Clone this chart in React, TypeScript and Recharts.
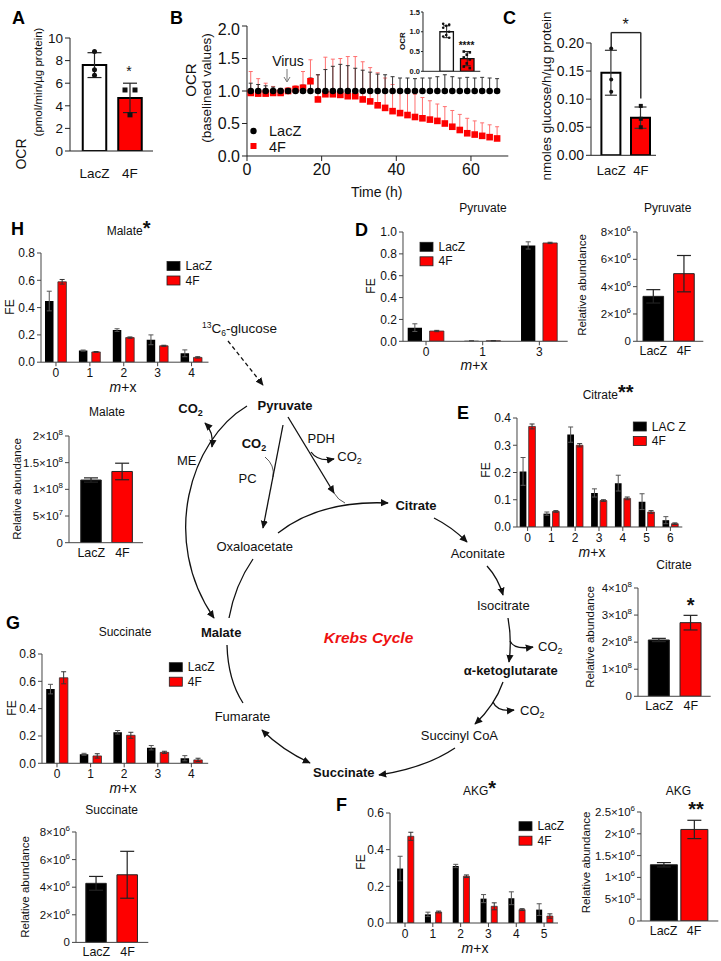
import React from 'react';
import { BarChart, Bar, XAxis, YAxis, ErrorBar, ComposedChart, Scatter, ReferenceLine, Cell } from 'recharts';

const FONT = '"Liberation Sans", Arial, Helvetica, sans-serif';
const RED = '#fe0000';
const INK = '#111';
const AXIS = '#444';

// ---------- A: OCR ----------
const groups = ['LacZ', '4F'];
const ocrMean = [7.6, 4.7];
const ocrSd = [1.1, 1.3];
const ocrPts = [[8.8, 7.2, 6.7], [5.4, 5.4, 3.2]];
const ocrTicks = [0, 2, 4, 6, 8, 10];

// ---------- B: time course ----------
const hours = [1, 3, 5, 7, 9, 11, 13, 15, 17, 19, 21, 23, 25, 27, 29, 31, 33, 35, 37, 39, 41, 43, 45, 47, 49, 51, 53, 55, 57, 59, 61, 63, 65, 67];
const lacZOcr = [1, 1, 1, 1, 1, 1, 1, 1, 1, 1, 1, 1, 1, 1, 1, 1, 1, 1, 1, 1, 1, 1, 1, 1, 1, 1, 1, 1, 1, 1, 1, 1, 1, 1];
const lacZOcrErr = [0.12, 0.1, 0.08, 0.06, 0.04, 0.02, 0.03, 0.09, 0.2, 0.25, 0.33, 0.38, 0.41, 0.39, 0.35, 0.32, 0.29, 0.26, 0.25, 0.22, 0.2, 0.2, 0.19, 0.2, 0.2, 0.22, 0.25, 0.22, 0.2, 0.21, 0.2, 0.21, 0.2, 0.19];
const fOcr = [0.97, 0.96, 0.96, 0.97, 0.97, 1.0, 1.03, 1.05, 1.15, 0.87, 0.95, 0.95, 0.94, 0.92, 0.92, 0.87, 0.84, 0.78, 0.74, 0.69, 0.66, 0.63, 0.6, 0.58, 0.56, 0.54, 0.5, 0.45, 0.4, 0.35, 0.33, 0.31, 0.29, 0.27];
const fOcrTop = [1.3, 1.19, 1.12, 1.07, 1.04, 1.05, 1.08, 1.3, 1.48, 1.25, 1.52, 1.49, 1.5, 1.53, 1.53, 1.45, 1.36, 1.28, 1.2, 1.1, 1.02, 0.98, 0.95, 0.9, 0.85, 0.8, 0.76, 0.7, 0.64, 0.58, 0.54, 0.51, 0.48, 0.45];
const bTicksX = [0, 20, 40, 60];
const bTicksY = [0, 0.5, 1, 1.5, 2];

// inset
const insetMean = [1.0, 0.32];
const insetSd = [0.15, 0.18];
const insetPts = [[1.2, 1.18, 1.15, 1.1, 1.0, 0.92, 0.88, 0.85], [0.5, 0.48, 0.42, 0.35, 0.3, 0.2, 0.12, 0.08]];
const insetTicks = [0, 0.5, 1, 1.5];

// ---------- C: glucose ----------
const glucMean = [0.147, 0.067];
const glucSd = [0.04, 0.019];
const glucPts = [[0.19, 0.135, 0.113], [0.088, 0.065, 0.05]];
const glucTicks = [0, 0.05, 0.1, 0.15, 0.2];
const bracketTop = 0.2185;
const bracketLeftEnd = 0.19;
const bracketRightEnd = 0.101;

// ---------- FE (fractional enrichment) ----------
const pyrCats = ['0', '1', '3'];
const pyrLac = [0.125, 0.005, 0.877];
const pyrLacErr = [0.035, 0.002, 0.033];
const pyrF = [0.094, 0.005, 0.9];
const pyrFErr = [0.006, 0.002, 0.006];

const citCats = ['0', '1', '2', '3', '4', '5', '6'];
const citLac = [0.204, 0.049, 0.339, 0.125, 0.161, 0.093, 0.025];
const citLacErr = [0.051, 0.006, 0.028, 0.015, 0.029, 0.029, 0.013];
const citF = [0.369, 0.057, 0.3, 0.097, 0.105, 0.055, 0.012];
const citFErr = [0.009, 0.003, 0.006, 0.003, 0.005, 0.005, 0.003];

const akgCats = ['0', '1', '2', '3', '4', '5'];
const akgLac = [0.297, 0.047, 0.311, 0.133, 0.135, 0.073];
const akgLacErr = [0.067, 0.012, 0.009, 0.022, 0.035, 0.032];
const akgF = [0.473, 0.06, 0.255, 0.091, 0.073, 0.038];
const akgFErr = [0.022, 0.005, 0.007, 0.019, 0.005, 0.012];

const sucCats = ['0', '1', '2', '3', '4'];
const sucLac = [0.543, 0.066, 0.227, 0.114, 0.037];
const sucLacErr = [0.035, 0.007, 0.013, 0.016, 0.019];
const sucF = [0.626, 0.054, 0.205, 0.08, 0.025];
const sucFErr = [0.044, 0.016, 0.022, 0.008, 0.012];

const malCats = ['0', '1', '2', '3', '4'];
const malLac = [0.448, 0.085, 0.235, 0.164, 0.065];
const malLacErr = [0.072, 0.004, 0.01, 0.036, 0.025];
const malF = [0.589, 0.075, 0.18, 0.12, 0.035];
const malFErr = [0.017, 0.003, 0.005, 0.004, 0.005];

// ---------- relative abundance ----------
const malAb = [1.175e8, 1.335e8];
const malAbErr = [0.04e8, 0.155e8];
const malAbTicks = [0, 5e7, 1e8, 1.5e8, 2e8];
const pyrAb = [3.29e6, 4.95e6];
const pyrAbErr = [0.49e6, 1.33e6];
const pyrAbTicks = [0, 2e6, 4e6, 6e6, 8e6];
const citAb = [2.08e8, 2.72e8];
const citAbErr = [0.06e8, 0.27e8];
const citAbTicks = [0, 1e8, 2e8, 3e8, 4e8];
const akgAb = [1.29e6, 2.1e6];
const akgAbErr = [0.05e6, 0.21e6];
const akgAbTicks = [0, 5e5, 1e6, 1.5e6, 2e6, 2.5e6];
const sucAb = [4.28e6, 4.9e6];
const sucAbErr = [0.5e6, 1.7e6];
const sucAbTicks = [0, 2e6, 4e6, 6e6, 8e6];

type Geo = { ax: number; yTop: number; yBot: number; xEnd: number };

function frame(g: Geo, yw: number, xh: number, mt: number, mr: number) {
  return {
    style: { position: 'absolute' as const, left: g.ax - yw, top: g.yTop - mt },
    width: yw + (g.xEnd - g.ax) + mr,
    height: mt + (g.yBot - g.yTop) + xh,
    margin: { top: mt, right: mr, bottom: 0, left: 0 },
  };
}

const tickStyle = (size: number, bold = false) => ({ fontSize: size, fill: INK, fontFamily: FONT, fontWeight: bold ? 700 : 400 });

function SciTick(props: any) {
  const { x, y, payload } = props;
  const v = payload.value as number;
  const base = { x, y, dy: 4, textAnchor: 'end' as const, fontSize: 11.5, fill: INK, fontFamily: FONT };
  if (v === 0) return <text {...base}>0</text>;
  const e = Math.floor(Math.log10(v) + 1e-9);
  const m = Math.round((v / Math.pow(10, e)) * 100) / 100;
  return (
    <text {...base}>
      {m}×10<tspan dy={-5} fontSize={8}>{e}</tspan>
    </text>
  );
}

type FEProps = {
  geo: Geo; cats: string[]; lac: number[]; lacErr: number[]; f4: number[]; f4Err: number[];
  yMax: number; ticks: number[]; digits: number; barSize: number; barGap: number; padL: number; padR: number;
};

function FEChart({ geo, cats, lac, lacErr, f4, f4Err, yMax, ticks, digits, barSize, barGap, padL, padR }: FEProps) {
  const f = frame(geo, 40, 24, 8, 4);
  const data = cats.map((c, i) => ({ c, lac: lac[i], le: [lacErr[i], lacErr[i]], f4: f4[i], fe: [f4Err[i], f4Err[i]] }));
  return (
    <div style={f.style}>
      <BarChart width={f.width} height={f.height} data={data} margin={f.margin} barGap={barGap}>
        <XAxis dataKey="c" height={24} tickSize={4} stroke={AXIS} tick={tickStyle(12)} interval={0} padding={{ left: padL, right: padR }} />
        <YAxis width={40} domain={[0, yMax]} ticks={ticks} allowDataOverflow interval={0} tickSize={4} stroke={AXIS}
          tick={tickStyle(12)} tickFormatter={(v: number) => v.toFixed(digits)} />
        <Bar dataKey="lac" fill="#000" barSize={barSize} isAnimationActive={false}>
          <ErrorBar dataKey="le" width={2.5} stroke="#555" strokeWidth={1} />
        </Bar>
        <Bar dataKey="f4" fill={RED} stroke="#333" strokeWidth={0.8} barSize={barSize} isAnimationActive={false}>
          <ErrorBar dataKey="fe" width={2.5} stroke="#333" strokeWidth={1} />
        </Bar>
      </BarChart>
    </div>
  );
}

type AbProps = { geo: Geo; mean: number[]; err: number[]; yMax: number; ticks: number[]; barSize: number; padL: number; padR: number };

function AbundChart({ geo, mean, err, yMax, ticks, barSize, padL, padR }: AbProps) {
  const f = frame(geo, 62, 22, 8, 2);
  const data = groups.map((g, i) => ({ g, v: mean[i], e: [err[i], err[i]] }));
  return (
    <div style={f.style}>
      <BarChart width={f.width} height={f.height} data={data} margin={f.margin}>
        <XAxis dataKey="g" height={22} tickLine={false} tickSize={0} tickMargin={5} stroke={AXIS} tick={tickStyle(12.5)} interval={0} padding={{ left: padL, right: padR }} />
        <YAxis width={62} domain={[0, yMax]} ticks={ticks} allowDataOverflow interval={0} tickSize={4} stroke={AXIS} tick={<SciTick />} />
        <Bar dataKey="v" barSize={barSize} stroke="#222" strokeWidth={1} isAnimationActive={false}>
          {data.map((d, i) => <Cell key={d.g} fill={i === 0 ? '#000' : RED} />)}
          <ErrorBar dataKey="e" width={7} stroke="#222" strokeWidth={1.2} />
        </Bar>
      </BarChart>
    </div>
  );
}

function rowsWithPts(means: number[], sds: number[], pts: number[][]) {
  return groups.map((g, i) => {
    const r: any = { g, mean: means[i], sd: [sds[i], sds[i]] };
    pts[i].forEach((p, j) => { r['p' + j] = p; });
    return r;
  });
}

const ptShape = (size: number, dx: number[][]) => (j: number) => (props: any) => {
  const { cx, cy, payload } = props;
  if (cx == null || cy == null) return <g />;
  const gi = groups.indexOf(payload.g);
  const x = cx + (dx[gi] ? dx[gi][j] || 0 : 0);
  return gi === 0
    ? <circle cx={x} cy={cy} r={size / 2} fill="#111" />
    : <rect x={x - size / 2} y={cy - size / 2} width={size} height={size} fill="#111" />;
};

function PanelA() {
  const geo = { ax: 70, yTop: 37.7, yBot: 150.7, xEnd: 153 };
  const f = frame(geo, 40, 30, 8, 2);
  const data = rowsWithPts(ocrMean, ocrSd, ocrPts);
  const shape = ptShape(5, [[0, 0, 0], [-5, 5, 0]]);
  return (
    <div style={f.style}>
      <ComposedChart width={f.width} height={f.height} data={data} margin={f.margin}>
        <XAxis dataKey="g" height={30} tickLine={false} tickMargin={11} stroke="#222" tick={tickStyle(13.5)} interval={0} padding={{ left: 6.75, right: 5.25 }} />
        <YAxis width={40} domain={[0, 10]} ticks={ocrTicks} allowDataOverflow interval={0} tickSize={5} stroke="#222" tick={tickStyle(13.5)} />
        <Bar dataKey="mean" barSize={23.5} stroke="#000" strokeWidth={2} isAnimationActive={false}>
          {data.map((d: any, i: number) => <Cell key={d.g} fill={i === 0 ? '#fff' : RED} />)}
          <ErrorBar dataKey="sd" width={7} stroke="#222" strokeWidth={1.2} />
        </Bar>
        {[0, 1, 2].map((j) => (
          <Scatter key={j} dataKey={'p' + j} shape={shape(j)} isAnimationActive={false} />
        ))}
      </ComposedChart>
    </div>
  );
}

function PanelC() {
  const geo = { ax: 591, yTop: 42.7, yBot: 155, xEnd: 656 };
  const f = frame(geo, 50, 26, 20, 4);
  const data = rowsWithPts(glucMean, glucSd, glucPts);
  const shape = ptShape(4, [[0, 0, 0], [0, 0, 0]]);
  const seg = { stroke: '#222', strokeWidth: 1.4, ifOverflow: 'visible' as const };
  return (
    <div style={f.style}>
      <ComposedChart width={f.width} height={f.height} data={data} margin={f.margin}>
        <XAxis dataKey="g" height={26} tickLine={false} tickMargin={4} stroke="#222" tick={tickStyle(13)} interval={0} padding={{ left: 5.4, right: 0.4 }} />
        <YAxis width={50} domain={[0, 0.2]} ticks={glucTicks} allowDataOverflow interval={0} tickSize={5} stroke="#222"
          tick={tickStyle(14)} tickFormatter={(v: number) => v.toFixed(2)} />
        <Bar dataKey="mean" barSize={19} stroke="#000" strokeWidth={2} isAnimationActive={false}>
          {data.map((d: any, i: number) => <Cell key={d.g} fill={i === 0 ? '#fff' : RED} />)}
          <ErrorBar dataKey="sd" width={6} stroke="#333" strokeWidth={1.2} />
        </Bar>
        {[0, 1, 2].map((j) => (
          <Scatter key={j} dataKey={'p' + j} shape={shape(j)} isAnimationActive={false} />
        ))}
        <ReferenceLine segment={[{ x: 'LacZ', y: bracketLeftEnd }, { x: 'LacZ', y: bracketTop }]} {...seg} />
        <ReferenceLine segment={[{ x: 'LacZ', y: bracketTop }, { x: '4F', y: bracketTop }]} {...seg} />
        <ReferenceLine segment={[{ x: '4F', y: bracketTop }, { x: '4F', y: bracketRightEnd }]} {...seg} />
      </ComposedChart>
    </div>
  );
}

function PanelB() {
  const geo = { ax: 246.7, yTop: 26, yBot: 156, xEnd: 508 };
  const f = frame(geo, 50, 34, 6, 4);
  const lacRows = hours.map((t, i) => ({ t, v: lacZOcr[i], e: [0, lacZOcrErr[i]] }));
  const fRows = hours.map((t, i) => ({ t, v: fOcr[i], e: [0, +(fOcrTop[i] - fOcr[i]).toFixed(3)] }));
  const sq = (p: any) => <rect x={p.cx - 3.3} y={p.cy - 3.3} width={6.6} height={6.6} fill={RED} />;
  const dot = (p: any) => <circle cx={p.cx} cy={p.cy} r={3.3} fill="#000" />;
  return (
    <div style={f.style}>
      <ComposedChart width={f.width} height={f.height} margin={f.margin}>
        <XAxis type="number" dataKey="t" domain={[0, 70]} ticks={bTicksX} allowDataOverflow height={34} tickSize={5} tickMargin={3}
          stroke="#222" tick={tickStyle(16)} />
        <YAxis type="number" domain={[0, 2]} ticks={bTicksY} allowDataOverflow width={50} tickSize={5} stroke="#222"
          tick={tickStyle(16)} tickFormatter={(v: number) => v.toFixed(1)} />
        <Scatter data={fRows} dataKey="v" shape={sq} isAnimationActive={false}>
          <ErrorBar dataKey="e" direction="y" width={2} stroke="#ff7070" strokeWidth={1} />
        </Scatter>
        <Scatter data={lacRows} dataKey="v" shape={dot} isAnimationActive={false}>
          <ErrorBar dataKey="e" direction="y" width={2} stroke="#333" strokeWidth={1} />
        </Scatter>
      </ComposedChart>
    </div>
  );
}

function Inset() {
  const geo = { ax: 422.7, yTop: 11.7, yBot: 71, xEnd: 480 };
  const f = frame(geo, 16, 8, 5, 2);
  const data = rowsWithPts(insetMean, insetSd, insetPts);
  const shape = ptShape(2.6, [[-3, 3, 0, -3, 3, 0, -3, 3], [-3, 3, 0, -3, 3, 0, -3, 3]]);
  return (
    <div style={f.style}>
      <ComposedChart width={f.width} height={f.height} data={data} margin={f.margin}>
        <XAxis dataKey="g" height={8} tick={false} tickLine={false} stroke="#222" padding={{ left: 12.9, right: 3.2 }} />
        <YAxis width={16} domain={[0, 1.5]} ticks={insetTicks} allowDataOverflow interval={0} tickSize={2} tickMargin={1} stroke="#222"
          tick={tickStyle(7.5, true)} tickFormatter={(v: number) => v.toFixed(1)} />
        <Bar dataKey="mean" barSize={13.5} stroke="#111" strokeWidth={1.3} isAnimationActive={false}>
          {data.map((d: any, i: number) => <Cell key={d.g} fill={i === 0 ? '#fff' : RED} />)}
          <ErrorBar dataKey="sd" width={3.5} stroke="#222" strokeWidth={1} />
        </Bar>
        {insetPts[0].map((_, j) => (
          <Scatter key={j} dataKey={'p' + j} shape={shape(j)} isAnimationActive={false} />
        ))}
      </ComposedChart>
    </div>
  );
}

function Co2({ x, y, bold = false, anchor = 'start' }: { x: number; y: number; bold?: boolean; anchor?: 'start' | 'middle' }) {
  return (
    <text x={x} y={y} fontSize={13} fontWeight={bold ? 700 : 400} textAnchor={anchor} fill={INK}>
      CO<tspan fontSize={9} dy={3}>2</tspan>
    </text>
  );
}

function Legend2({ x, y, first = 'LacZ' }: { x: number; y: number; first?: string }) {
  return (
    <g fontSize={12} fill={INK}>
      <rect x={x} y={y} width={13} height={9} fill="#000" stroke="#222" strokeWidth={0.8} />
      <text x={x + 18.5} y={y + 8.5}>{first}</text>
      <rect x={x} y={y + 14.5} width={13} height={9} fill={RED} stroke="#222" strokeWidth={0.8} />
      <text x={x + 18.5} y={y + 23}>4F</text>
    </g>
  );
}

function Rot({ x, y, size, children, bold = false }: { x: number; y: number; size: number; children: React.ReactNode; bold?: boolean }) {
  const bx = x + size * 0.35;
  return (
    <text x={bx} y={y} fontSize={size} fontWeight={bold ? 700 : 400} textAnchor="middle" transform={`rotate(-90 ${bx} ${y})`} fill={INK}>
      {children}
    </text>
  );
}

function Overlay() {
  const line = { fill: 'none', stroke: '#111', strokeWidth: 1.3 };
  const star = { fontSize: 20, fontWeight: 700 };
  const mx = (x: number, y: number) => (
    <text x={x} y={y} fontSize={14} textAnchor="middle" fill={INK}><tspan fontStyle="italic">m</tspan>+x</text>
  );
  return (
    <svg width={721} height={961} style={{ position: 'absolute', left: 0, top: 0, pointerEvents: 'none' }} fontFamily={FONT}>
      <defs>
        <marker id="ah" viewBox="0 0 10 10" refX="9" refY="5" markerWidth="8" markerHeight="8" orient="auto-start-reverse" markerUnits="userSpaceOnUse">
          <path d="M0,0.5 L10,5 L0,9.5 z" fill="#111" />
        </marker>
      </defs>
      {/* panel letters */}
      <g fontSize={18} fontWeight={700} fill="#000">
        <text x={12} y={23.5}>A</text>
        <text x={170} y={23.5}>B</text>
        <text x={503} y={23.5}>C</text>
        <text x={11} y={235}>H</text>
        <text x={355} y={236}>D</text>
        <text x={457} y={418.5}>E</text>
        <text x={336} y={811}>F</text>
        <text x={6} y={629}>G</text>
      </g>

      {/* A */}
      <Rot x={21} y={154} size={14}>OCR</Rot>
      <Rot x={37.5} y={82} size={11.5}>(pmol/min/µg protein)</Rot>
      <text x={129} y={76} fontSize={14} textAnchor="middle" fill={INK}>*</text>

      {/* B */}
      <Rot x={190.5} y={80} size={15}>OCR</Rot>
      <Rot x={206} y={88} size={13.5}>(baselined values)</Rot>
      <text x={288} y={66} fontSize={14} textAnchor="middle" fill={INK}>Virus</text>
      <line x1={287} y1={69} x2={287} y2={81} stroke="#777" strokeWidth={1} />
      <path d="M284,77 L287,82 L290,77" fill="none" stroke="#777" strokeWidth={1} />
      <circle cx={253.5} cy={131} r={3.2} fill="#000" />
      <text x={269} y={136} fontSize={14.5} fill={INK}>LacZ</text>
      <rect x={250.5} y={143} width={6} height={6} fill={RED} />
      <text x={269} y={151.5} fontSize={14.5} fill={INK}>4F</text>
      <text x={376.7} y={197} fontSize={14} textAnchor="middle" fill={INK}>Time (h)</text>
      <Rot x={402} y={41} size={8} bold>OCR</Rot>
      <text x={466.5} y={49} fontSize={10} fontWeight={700} textAnchor="middle" fill={INK}>****</text>

      {/* C */}
      <Rot x={546} y={96} size={13.5}>nmoles glucose/h/µg protein</Rot>
      <text x={625.5} y={30} fontSize={16} textAnchor="middle" fill={INK}>*</text>

      {/* H */}
      <text x={106.7} y={235} fontSize={12} fill={INK}>Malate<tspan {...star}>*</tspan></text>
      <Rot x={10} y={307} size={12}>FE</Rot>
      <Legend2 x={167} y={261.5} />
      {mx(123, 391.5)}
      <text x={107} y={416} fontSize={12} textAnchor="middle" fill={INK}>Malate</text>
      <Rot x={17} y={489} size={11.5}>Relative abundance</Rot>

      {/* D */}
      <text x={483} y={212} fontSize={12} textAnchor="middle" fill={INK}>Pyruvate</text>
      <Rot x={371} y={286} size={12}>FE</Rot>
      <Legend2 x={420} y={242.3} />
      {mx(474, 370)}
      <text x={667.7} y={212} fontSize={12} textAnchor="middle" fill={INK}>Pyruvate</text>
      <Rot x={582} y={285} size={11.5}>Relative abundance</Rot>

      {/* E */}
      <text x={582.7} y={398.5} fontSize={12} fill={INK}>Citrate<tspan {...star}>**</tspan></text>
      <Rot x={485.7} y={470} size={12}>FE</Rot>
      <Legend2 x={633.3} y={422} first="LAC Z" />
      {mx(592, 557)}
      <text x={674} y={569} fontSize={12} textAnchor="middle" fill={INK}>Citrate</text>
      <Rot x={590} y={637} size={11.5}>Relative abundance</Rot>
      <text x={690.7} y={612} fontSize={20} fontWeight={700} textAnchor="middle" fill={INK}>*</text>

      {/* F */}
      <text x={463} y={795} fontSize={12} fill={INK}>AKG<tspan {...star}>*</tspan></text>
      <Rot x={360.7} y={862} size={12}>FE</Rot>
      <Legend2 x={519} y={821.7} />
      {mx(475, 952.5)}
      <text x={678.3} y={795} fontSize={12} textAnchor="middle" fill={INK}>AKG</text>
      <Rot x={586} y={862.5} size={11.5}>Relative abundance</Rot>
      <text x={696} y={816} fontSize={20} fontWeight={700} textAnchor="middle" fill={INK}>**</text>

      {/* G */}
      <text x={125} y={636} fontSize={12} textAnchor="middle" fill={INK}>Succinate</text>
      <Rot x={11.5} y={708} size={12}>FE</Rot>
      <Legend2 x={169.3} y={662.7} />
      {mx(123, 793)}
      <text x={111.7} y={814} fontSize={12} textAnchor="middle" fill={INK}>Succinate</text>
      <Rot x={25} y={887} size={11.5}>Relative abundance</Rot>

      {/* Krebs cycle diagram */}
      <g fontSize={13} fill={INK}>
        <text x={202} y={333} fontSize={13.5}>
          <tspan fontSize={8.5} dy={-5}>13</tspan><tspan dy={5}>C</tspan><tspan fontSize={8.5} dy={3}>6</tspan><tspan dy={-3}>-glucose</tspan>
        </text>
        <text x={285} y={409.5} fontWeight={700} textAnchor="middle">Pyruvate</text>
        <Co2 x={178.3} y={413} bold />
        <text x={186.7} y={464.5} textAnchor="middle">ME</text>
        <Co2 x={241.7} y={447.5} bold />
        <text x={247.5} y={482.5} textAnchor="middle">PC</text>
        <text x={321.3} y={443} textAnchor="middle">PDH</text>
        <Co2 x={337.3} y={461} />
        <text x={416} y={510} fontWeight={700} textAnchor="middle">Citrate</text>
        <text x={254.7} y={551} textAnchor="middle">Oxaloacetate</text>
        <text x={221.2} y={637} fontWeight={700} textAnchor="middle">Malate</text>
        <text x={368.5} y={643} fontSize={15.5} fontWeight={700} fontStyle="italic" fill="#ee1111" textAnchor="middle">Krebs Cycle</text>
        <text x={242.5} y={721} textAnchor="middle">Fumarate</text>
        <text x={343.8} y={777} fontWeight={700} textAnchor="middle">Succinate</text>
        <text x={459.4} y={740} textAnchor="middle">Succinyl CoA</text>
        <text x={477.8} y={558} textAnchor="middle">Aconitate</text>
        <text x={503.3} y={609.5} textAnchor="middle">Isocitrate</text>
        <Co2 x={538} y={651} />
        <text x={510.8} y={674.5} fontWeight={700} textAnchor="middle">α-ketoglutarate</text>
        <Co2 x={520} y={714.5} />
      </g>
      <path d="M228,341 L263,385" {...line} strokeDasharray="4 3" markerEnd="url(#ah)" />
      <path d="M247,406 C190,440 160,540 214,618" {...line} markerEnd="url(#ah)" />
      <path d="M212,447 Q214,432 205,423" {...line} markerStart="url(#ah)" markerEnd="url(#ah)" />
      <path d="M283,425 L263,528" {...line} markerEnd="url(#ah)" />
      <path d="M265,457 Q275,465 273,477" fill="none" stroke="#111" strokeWidth={0.7} />
      <path d="M288,417 L334,493" {...line} markerEnd="url(#ah)" />
      <path d="M311,452 Q318,462 334,459" {...line} markerEnd="url(#ah)" />
      <path d="M334,493 Q338,500 345,503" fill="none" stroke="#111" strokeWidth={0.7} />
      <path d="M278,533 Q320,500 388,503" {...line} markerEnd="url(#ah)" />
      <path d="M253,559 Q235,585 229,618" {...line} />
      <path d="M227,645 Q228,680 243,703" {...line} />
      <path d="M262,730 Q282,750 310,763" {...line} markerStart="url(#ah)" markerEnd="url(#ah)" />
      <path d="M455,748 Q425,768 379,775" {...line} markerEnd="url(#ah)" />
      <path d="M434,518 Q452,527 467,542" {...line} markerEnd="url(#ah)" />
      <path d="M487,566 Q498,578 503,595" {...line} markerEnd="url(#ah)" />
      <path d="M508,618 Q512,640 509,662" {...line} markerEnd="url(#ah)" />
      <path d="M510,641 Q514,650 533,647" {...line} markerEnd="url(#ah)" />
      <path d="M503,682 Q495,705 475,724" {...line} markerEnd="url(#ah)" />
      <path d="M493,702 Q497,712 514,710" {...line} markerEnd="url(#ah)" />
    </svg>
  );
}

export default function App() {
  return (
    <div style={{ position: 'absolute', left: 0, top: 0, width: 721, height: 961, background: '#fff', fontFamily: FONT, overflow: 'hidden' }}>
      <PanelA />
      <PanelB />
      <Inset />
      <PanelC />
      <FEChart geo={{ ax: 41, yTop: 253.3, yBot: 362.5, xEnd: 208.5 }} cats={malCats} lac={malLac} lacErr={malLacErr} f4={malF} f4Err={malFErr}
        yMax={0.8} ticks={[0, 0.2, 0.4, 0.6, 0.8]} digits={1} barSize={8.5} barGap={4.4} padL={-2} padR={0} />
      <AbundChart geo={{ ax: 69, yTop: 436, yBot: 542.7, xEnd: 143 }} mean={malAb} err={malAbErr} yMax={2e8} ticks={malAbTicks} barSize={20.5} padL={6.75} padR={5} />
      <FEChart geo={{ ax: 403, yTop: 231.7, yBot: 341, xEnd: 567.7 }} cats={pyrCats} lac={pyrLac} lacErr={pyrLacErr} f4={pyrF} f4Err={pyrFErr}
        yMax={1} ticks={[0, 0.2, 0.4, 0.6, 0.8, 1]} digits={1} barSize={14.3} barGap={7.6} padL={-5.3} padR={0} />
      <AbundChart geo={{ ax: 636.7, yTop: 231.7, yBot: 341, xEnd: 703 }} mean={pyrAb} err={pyrAbErr} yMax={8e6} ticks={pyrAbTicks} barSize={20.6} padL={1} padR={4} />
      <FEChart geo={{ ax: 516.7, yTop: 417.7, yBot: 526.7, xEnd: 682 }} cats={citCats} lac={citLac} lacErr={citLacErr} f4={citF} f4Err={citFErr}
        yMax={0.4} ticks={[0, 0.1, 0.2, 0.3, 0.4]} digits={1} barSize={6.7} barGap={2.3} padL={-1.3} padR={0} />
      <AbundChart geo={{ ax: 638.3, yTop: 587.7, yBot: 696, xEnd: 711 }} mean={citAb} err={citAbErr} yMax={4e8} ticks={citAbTicks} barSize={21} padL={5.35} padR={3.95} />
      <FEChart geo={{ ax: 390, yTop: 812.7, yBot: 922.7, xEnd: 558 }} cats={akgCats} lac={akgLac} lacErr={akgLacErr} f4={akgF} f4Err={akgFErr}
        yMax={0.6} ticks={[0, 0.2, 0.4, 0.6]} digits={1} barSize={6} barGap={4.7} padL={1.1} padR={0} />
      <AbundChart geo={{ ax: 640.7, yTop: 811.7, yBot: 920.7, xEnd: 718 }} mean={akgAb} err={akgAbErr} yMax={2.5e6} ticks={akgAbTicks} barSize={27} padL={7.4} padR={9} />
      <FEChart geo={{ ax: 42.3, yTop: 654, yBot: 763.3, xEnd: 208.5 }} cats={sucCats} lac={sucLac} lacErr={sucLacErr} f4={sucF} f4Err={sucFErr}
        yMax={0.8} ticks={[0, 0.2, 0.4, 0.6, 0.8]} digits={1} barSize={8.5} barGap={4.7} padL={-1.8} padR={0} />
      <AbundChart geo={{ ax: 76, yTop: 832.3, yBot: 942.7, xEnd: 148.3 }} mean={sucAb} err={sucAbErr} yMax={8e6} ticks={sucAbTicks} barSize={20.5} padL={4.8} padR={5.2} />
      <Overlay />
    </div>
  );
}
